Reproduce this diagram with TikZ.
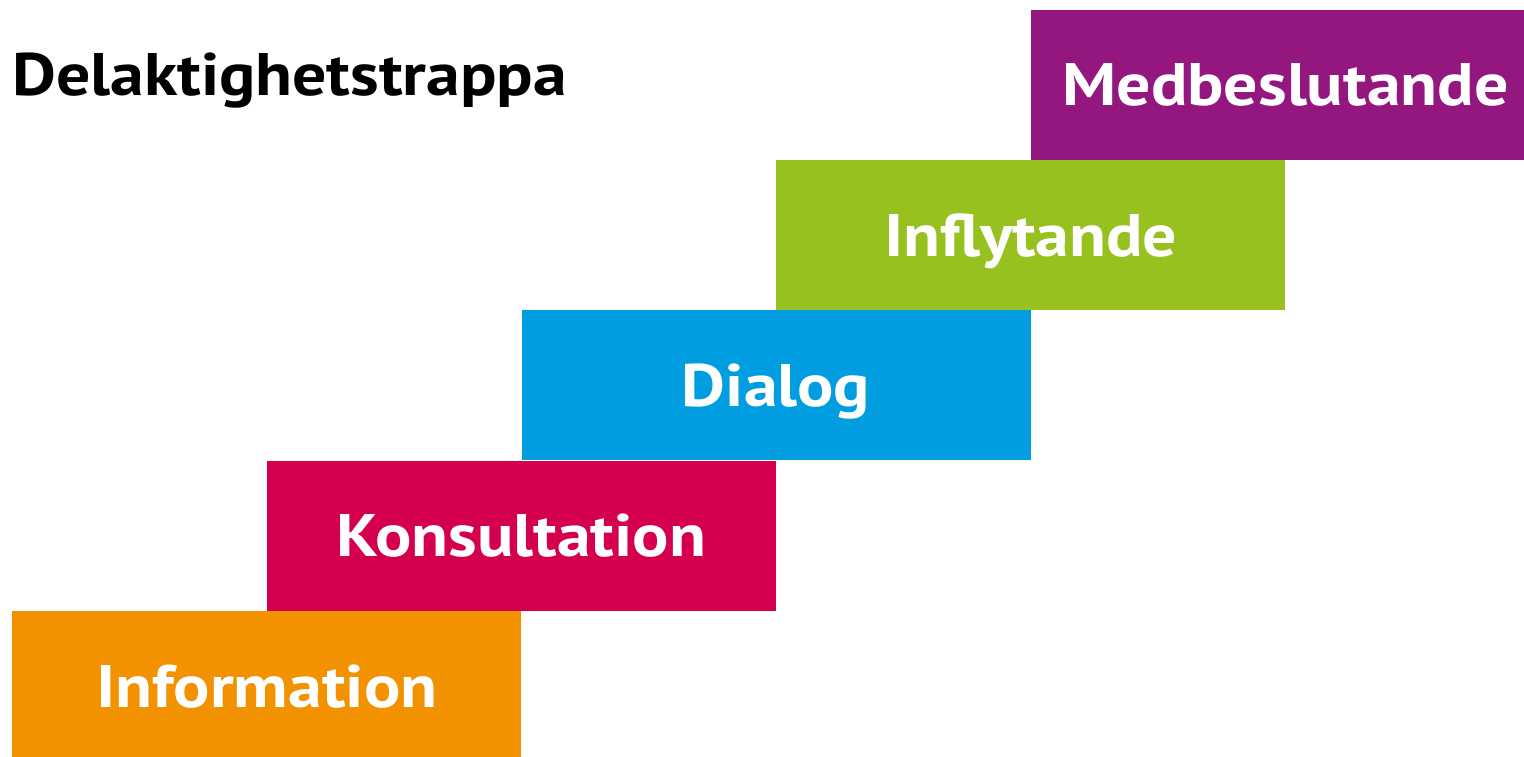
\documentclass[tikz,border=0pt]{standalone}
\usepackage{fontspec}
\setmainfont{PT Sans}[FakeStretch=1.13]
\usepackage{tikz}
\usetikzlibrary{positioning}
\definecolor{infoorange}{HTML}{F39200}
\definecolor{konsred}{HTML}{D4004F}
\definecolor{dialogblue}{HTML}{009EE0}
\definecolor{inflgreen}{HTML}{96C11F}
\definecolor{medpurple}{HTML}{93177F}
\tikzset{
	stepbox/.style={anchor=south west, minimum width=509pt, minimum height=150pt,
		inner sep=0pt, text=white, font=\fontsize{60}{60}\selectfont\bfseries,
		text height=42pt, text depth=0pt}
}

\begin{document}
\begin{tikzpicture}[x=1pt,y=-1pt]
	\useasboundingbox (0,0) rectangle (1524,757);
	\clip (0,0) rectangle (1524,757);
	\fill[white] (0,0) rectangle (1524,757);
	\node[anchor=base west, inner sep=0pt, font=\fontsize{60}{60}\selectfont\bfseries] (title) at (12,96) {Delaktighetstrappa};
	\node[stepbox, anchor=north west, fill=infoorange] (info) at (12,611) {Information};
	\node[stepbox, fill=konsred] (kons) at (info.north) {Konsultation};
	\node[stepbox, fill=dialogblue] (dialog) at (kons.north) {Dialog};
	\node[stepbox, fill=inflgreen] (infl) at (dialog.north) {Inflytande};
	\node[stepbox, fill=medpurple] (med) at (infl.north) {Medbeslutande};
\end{tikzpicture}
\end{document}
